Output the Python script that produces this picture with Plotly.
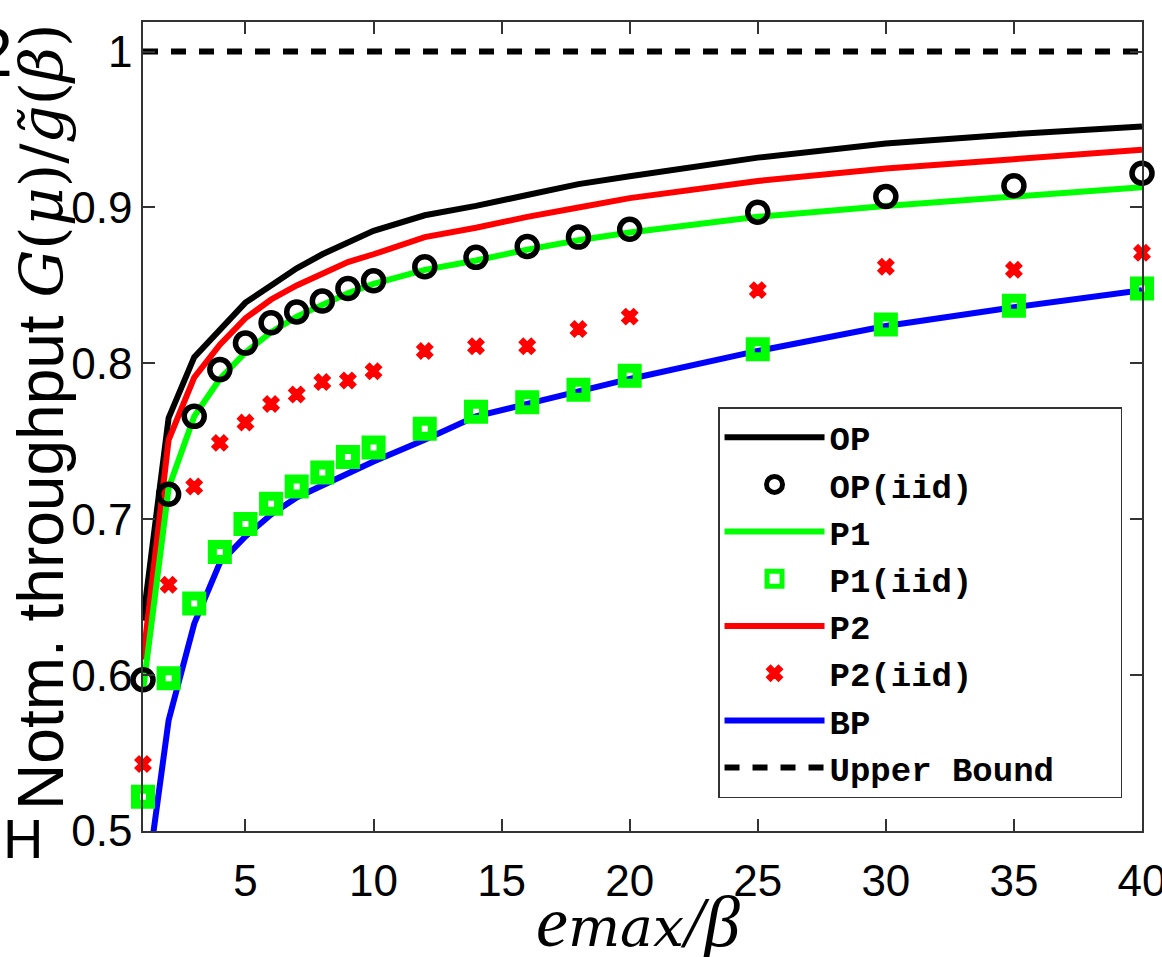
import plotly.graph_objects as go

# ---------------- data ----------------
x_vals = [1, 2, 3, 4, 5, 6, 7, 8, 9, 10, 12, 14, 16, 18, 20, 25, 30, 35, 40]

op_line = [0.635, 0.765, 0.804, 0.822, 0.839, 0.850, 0.861, 0.870, 0.878, 0.885,
           0.895, 0.901, 0.908, 0.915, 0.920, 0.932, 0.941, 0.947, 0.952]
op_iid = [0.597, 0.716, 0.766, 0.796, 0.813, 0.826, 0.833, 0.840, 0.848, 0.853,
          0.862, 0.868, 0.875, 0.881, 0.886, 0.897, 0.907, 0.914, 0.922]
p1_line = [0.590, 0.720, 0.766, 0.790, 0.807, 0.820, 0.830, 0.838, 0.845, 0.851,
           0.860, 0.866, 0.873, 0.879, 0.884, 0.894, 0.901, 0.907, 0.913]
p1_iid = [0.522, 0.598, 0.646, 0.679, 0.697, 0.710, 0.721, 0.730, 0.740, 0.746,
          0.758, 0.769, 0.775, 0.783, 0.792, 0.809, 0.825, 0.837, 0.848]
p2_line = [0.610, 0.751, 0.791, 0.812, 0.829, 0.841, 0.850, 0.858, 0.865, 0.870,
           0.881, 0.887, 0.894, 0.900, 0.906, 0.917, 0.925, 0.931, 0.937]
p2_iid = [0.543, 0.658, 0.721, 0.749, 0.762, 0.774, 0.780, 0.788, 0.789, 0.795,
          0.808, 0.811, 0.811, 0.822, 0.830, 0.847, 0.862, 0.860, 0.871]
bp_line = [0.450, 0.571, 0.633, 0.672, 0.689, 0.703, 0.714, 0.722, 0.730, 0.737,
           0.751, 0.766, 0.774, 0.782, 0.790, 0.808, 0.824, 0.836, 0.847]
upper_x = [1, 40]
upper_y = [1.0, 1.0]

x_ticks = [5, 10, 15, 20, 25, 30, 35, 40]
y_ticks = [0.5, 0.6, 0.7, 0.8, 0.9, 1.0]
y_ticktext = ["0.5", "0.6", "0.7", "0.8", "0.9", "1"]

NB = "\u00a0"

# ---------------- figure ----------------
fig = go.Figure()

LW = 6
fig.add_trace(go.Scatter(x=x_vals, y=op_line, mode="lines", name="OP",
                         line=dict(color="black", width=LW), legendrank=1))
fig.add_trace(go.Scatter(x=x_vals, y=p2_line, mode="lines", name="P2",
                         line=dict(color="#ff0000", width=LW), legendrank=5))
fig.add_trace(go.Scatter(x=x_vals, y=p1_line, mode="lines", name="P1",
                         line=dict(color="#00ff00", width=LW), legendrank=3))
fig.add_trace(go.Scatter(x=x_vals, y=bp_line, mode="lines", name="BP",
                         line=dict(color="#0000ff", width=LW), legendrank=7))
fig.add_trace(go.Scatter(x=upper_x, y=upper_y, mode="lines",
                         name="Upper Bound" + NB * 3,
                         line=dict(color="black", width=6, dash="15px,13px"),
                         legendrank=8))
fig.add_trace(go.Scatter(x=x_vals, y=p2_iid, mode="markers", name="P2(iid)",
                         marker=dict(symbol="x", size=14, color="#ff0000",
                                     line=dict(width=1.5, color="#ff0000")),
                         cliponaxis=False, legendrank=6))
fig.add_trace(go.Scatter(x=x_vals, y=op_iid, mode="markers", name="OP(iid)",
                         marker=dict(symbol="circle-open", size=20, color="black",
                                     line=dict(width=5.5, color="black")),
                         cliponaxis=False, legendrank=2))
fig.add_trace(go.Scatter(x=x_vals, y=p1_iid, mode="markers", name="P1(iid)",
                         marker=dict(symbol="square-open", size=15, color="#00ff00",
                                     line=dict(width=9, color="#00ff00")),
                         cliponaxis=False, legendrank=4))

axis_common = dict(showline=True, linecolor="#333333", linewidth=1.5,
                   mirror="ticks", ticks="inside", ticklen=12, tickwidth=1.5,
                   tickcolor="#333333", showgrid=False, zeroline=False,
                   ticklabeloverflow="allow", automargin=False,
                   tickfont=dict(family="Liberation Sans, Arial", size=44,
                                 color="black"))

fig.update_layout(
    width=1162, height=957, autosize=False,
    margin=dict(l=143, r=20, t=22, b=126),
    paper_bgcolor="white", plot_bgcolor="white",
    xaxis=dict(range=[1, 40], tickvals=x_ticks, ticklabelstandoff=10,
               **axis_common),
    yaxis=dict(range=[0.5, 1.019], tickvals=y_ticks, ticktext=y_ticktext,
               **axis_common),
    legend=dict(x=0.5756, y=0.524, xanchor="left", yanchor="top",
                bgcolor="white", bordercolor="#333333", borderwidth=1.5,
                font=dict(family="Liberation Mono, Courier New", size=34,
                          color="black", weight="bold"),
                itemwidth=100, tracegroupgap=0),
    showlegend=True,
)

# axis titles
fig.add_annotation(
    xref="paper", yref="paper", x=0.4955, y=-0.112,
    xanchor="center", yanchor="middle", showarrow=False,
    text=("<i>e</i><span style=\"font-family:'DejaVu Serif';font-size:55px\">"
          "<i>max</i></span><i>/β</i>"),
    font=dict(family="Liberation Serif", size=72, color="black"))

fig.add_annotation(
    xref="paper", yref="paper", x=-0.102, y=0.512,
    xanchor="center", yanchor="middle", showarrow=False, textangle=-90,
    text=("Notm. throughput "
          "<span style=\"font-family:'DejaVu Serif';font-size:60px\">"
          "<i>G</i>(<i>μ</i>)/<i>g̃</i>(<i>β</i>)</span>"),
    font=dict(family="Liberation Sans, Arial", size=64, color="black"))

# stray glyphs visible at the left edge of the reference
fig.add_annotation(
    xref="paper", yref="paper", x=-0.120, y=-0.009,
    xanchor="center", yanchor="middle", showarrow=False, text="H",
    font=dict(family="Liberation Sans, Arial", size=56, color="black"))
fig.add_annotation(
    xref="paper", yref="paper", x=-0.128, y=0.963,
    xanchor="right", yanchor="middle", showarrow=False, text="2",
    font=dict(family="Liberation Sans, Arial", size=68, color="black"))

fig.write_html("out.html",
               config={"displayModeBar": False},
               post_script="document.body.style.margin='0';"
                           "document.body.style.overflow='hidden';")
